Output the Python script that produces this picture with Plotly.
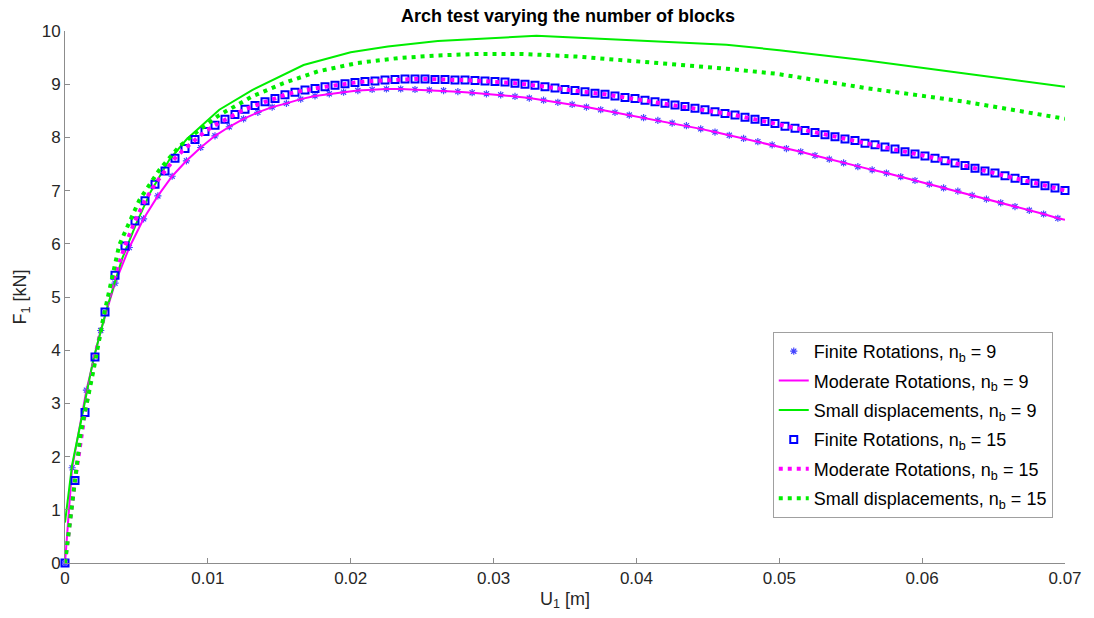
import plotly.graph_objects as go

# ---- Arch test: load F1 [kN] versus displacement U1 [m] ----

# n_b = 9 : finite rotations sampled every 1 mm of U1 (offset by 0.5 mm)
U9_STEP = 0.001
U9_OFFSET = 0.0005
F9_finite = [
    0.0,
    1.79, 3.25, 4.37, 5.26, 5.93, 6.47, 6.90, 7.27, 7.56, 7.81,
    8.03, 8.20, 8.35, 8.47, 8.57, 8.64, 8.72, 8.78, 8.82, 8.85,
    8.88, 8.90, 8.91, 8.91, 8.90, 8.89, 8.88, 8.86, 8.84, 8.82,
    8.80, 8.77, 8.74, 8.70, 8.66, 8.62, 8.57, 8.52, 8.47, 8.42,
    8.37, 8.32, 8.27, 8.22, 8.16, 8.10, 8.04, 7.98, 7.92, 7.86,
    7.79, 7.73, 7.66, 7.59, 7.52, 7.45, 7.39, 7.33, 7.26, 7.19,
    7.12, 7.05, 6.99, 6.91, 6.84, 6.77, 6.70, 6.63, 6.56, 6.48,
]
u9_finite = [0.0] + [round(U9_OFFSET + U9_STEP * j, 4) for j in range(len(F9_finite) - 1)]

# n_b = 9 : moderate rotations (same load path, carried to U1 = 0.07)
u9_moderate = u9_finite + [0.07]
F9_moderate = F9_finite + [6.45]

# n_b = 9 : small displacements
u9_small = [0.0, 0.0005, 0.0013, 0.002, 0.003, 0.004, 0.005, 0.006, 0.0073,
            0.0085, 0.0096, 0.0108, 0.0131, 0.0167, 0.02, 0.0226, 0.0261,
            0.03, 0.033, 0.0393, 0.0463, 0.05, 0.056, 0.063, 0.07]
F9_small = [0.76, 1.85, 2.90, 3.85, 4.85, 5.72, 6.39, 6.98, 7.58,
            7.96, 8.23, 8.52, 8.89, 9.36, 9.60, 9.71, 9.81,
            9.87, 9.91, 9.83, 9.74, 9.64, 9.45, 9.20, 8.95]

# n_b = 15 : finite / moderate rotations sampled every 0.7 mm of U1
U15_STEP = 0.0007
F15_finite = [
    0.0, 1.55, 2.83, 3.87, 4.72, 5.41, 5.96, 6.43, 6.81, 7.12,
    7.37, 7.61, 7.79, 7.96, 8.11, 8.23, 8.34, 8.43, 8.53, 8.60,
    8.67, 8.73, 8.80, 8.85, 8.89, 8.92, 8.95, 8.98, 9.01, 9.03,
    9.05, 9.06, 9.08, 9.09, 9.10, 9.10, 9.10, 9.09, 9.09, 9.08,
    9.08, 9.07, 9.06, 9.05, 9.04, 9.02, 9.00, 8.98, 8.95, 8.93,
    8.90, 8.88, 8.86, 8.83, 8.81, 8.78, 8.75, 8.73, 8.70, 8.67,
    8.64, 8.61, 8.58, 8.55, 8.52, 8.48, 8.45, 8.42, 8.38, 8.34,
    8.30, 8.26, 8.21, 8.17, 8.13, 8.09, 8.05, 8.01, 7.97, 7.94,
    7.89, 7.86, 7.82, 7.78, 7.73, 7.69, 7.65, 7.61, 7.56, 7.52,
    7.47, 7.42, 7.37, 7.33, 7.28, 7.23, 7.19, 7.14, 7.09, 7.05,
    7.00,
]
u15 = [round(U15_STEP * k, 4) for k in range(len(F15_finite))]
F15_moderate = list(F15_finite)

# n_b = 15 : small displacements
u15_small = [0.0, 0.0003, 0.0006, 0.0011, 0.002, 0.0027, 0.0038, 0.0052,
             0.0066, 0.008, 0.0094, 0.0108, 0.0131, 0.0153, 0.0177, 0.0205,
             0.0233, 0.0261, 0.029, 0.032, 0.0358, 0.0393, 0.0428, 0.0463,
             0.0497, 0.056, 0.063, 0.07]
F15_small = [0.0, 0.68, 1.45, 2.44, 3.63, 4.63, 5.98, 6.82,
             7.39, 7.83, 8.14, 8.42, 8.77, 9.02, 9.24, 9.40,
             9.49, 9.54, 9.57, 9.57, 9.52, 9.45, 9.37, 9.29,
             9.20, 8.93, 8.67, 8.35]

x_ticks = [0, 0.01, 0.02, 0.03, 0.04, 0.05, 0.06, 0.07]
x_tick_text = ["0", "0.01", "0.02", "0.03", "0.04", "0.05", "0.06", "0.07"]
y_ticks = list(range(0, 11))

FONT = "Liberation Sans, Arial, Helvetica, sans-serif"
BLUE = "#0000ff"
MAGENTA = "#ff00ff"
GREEN = "#00ee00"
AXIS_GREY = "#8c8c8c"
TEXT = "#262626"

fig = go.Figure()

fig.add_trace(go.Scatter(
    x=u9_finite, y=F9_finite, mode="markers",
    name="Finite Rotations, n<sub>b</sub> = 9", legendgroup="a",
    marker=dict(symbol="asterisk-open", size=6, color="#4646ff",
                line=dict(color="#4646ff", width=1.2)),
    cliponaxis=False,
))
fig.add_trace(go.Scatter(
    x=u9_moderate, y=F9_moderate, mode="lines",
    name="Moderate Rotations, n<sub>b</sub> = 9", legendgroup="b",
    line=dict(color=MAGENTA, width=2),
))
fig.add_trace(go.Scatter(
    x=u9_small, y=F9_small, mode="lines",
    name="Small displacements, n<sub>b</sub> = 9", legendgroup="c",
    line=dict(color=GREEN, width=2),
))
fig.add_trace(go.Scatter(
    x=u15, y=F15_finite, mode="markers",
    name="Finite Rotations, n<sub>b</sub> = 15", legendgroup="d",
    marker=dict(symbol="square-open", size=7, color=BLUE,
                line=dict(color=BLUE, width=2)),
    cliponaxis=False,
))
fig.add_trace(go.Scatter(
    x=u15, y=F15_moderate, mode="lines",
    name="Moderate Rotations, n<sub>b</sub> = 15", legendgroup="e",
    line=dict(color=MAGENTA, width=4, dash="4px,5px"),
))
fig.add_trace(go.Scatter(
    x=u15_small, y=F15_small, mode="lines",
    name="Small displacements, n<sub>b</sub> = 15", legendgroup="f",
    line=dict(color=GREEN, width=4, dash="4px,5px"),
))

axis_common = dict(
    showline=True, linecolor=AXIS_GREY, linewidth=1,
    ticks="inside", ticklen=5, tickcolor=AXIS_GREY, tickwidth=1,
    showgrid=False, zeroline=False, mirror=False,
    tickfont=dict(family=FONT, size=17, color=TEXT),
)

fig.update_layout(
    width=1094, height=618,
    margin=dict(l=65, r=23, t=31, b=55),
    paper_bgcolor="white", plot_bgcolor="white",
    font=dict(family=FONT, size=17, color=TEXT),
    title=dict(
        text="<b>Arch test varying the number of blocks</b>",
        x=(65 + 1071) / 2 / 1094, xanchor="center",
        y=1 - 16 / 618, yanchor="middle",
        font=dict(family=FONT, size=18, color="#000000"),
    ),
    xaxis=dict(
        range=[0, 0.07], tickvals=x_ticks, ticktext=x_tick_text,
        title=dict(text="U<sub>1</sub> [m]", standoff=4,
                   font=dict(family=FONT, size=18, color=TEXT)),
        **axis_common,
    ),
    yaxis=dict(
        range=[0, 10], tickvals=y_ticks,
        title=dict(text="F<sub>1</sub> [kN]", standoff=10,
                   font=dict(family=FONT, size=18, color=TEXT)),
        **axis_common,
    ),
    legend=dict(
        x=(777 - 65) / 1006, y=(563 - 332) / 532,
        xanchor="left", yanchor="top",
        bgcolor="white", bordercolor="#a0a0a0", borderwidth=1,
        font=dict(family=FONT, size=18, color="#000000"),
        itemwidth=30, tracegroupgap=3,
        traceorder="grouped",
    ),
    showlegend=True,
)

fig.write_html("out.html")
